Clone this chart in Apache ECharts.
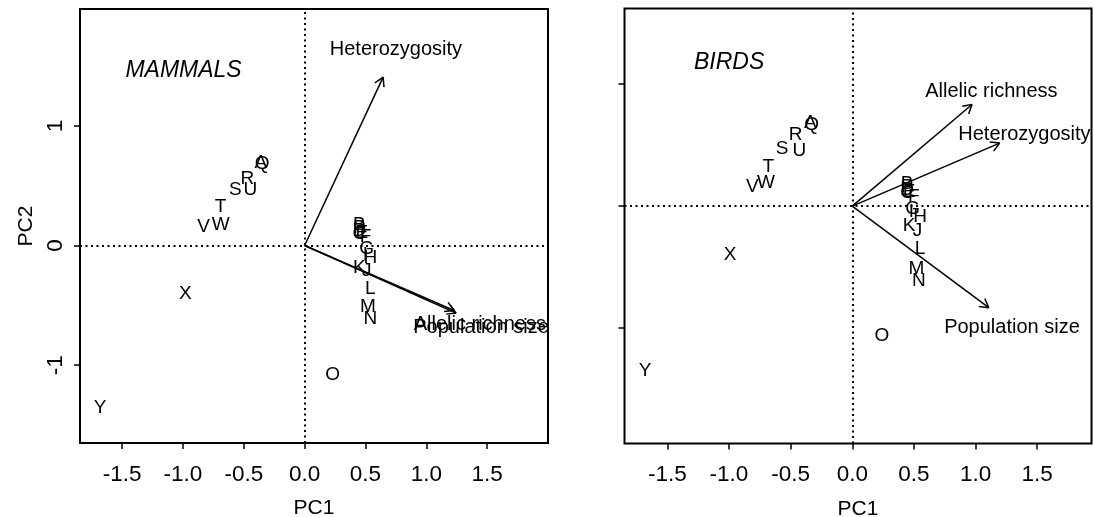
<!DOCTYPE html>
<html>
<head>
<meta charset="utf-8">
<script src="https://cdn.jsdelivr.net/npm/echarts@6/dist/echarts.min.js"></script>
<style>
    html, body { margin: 0; padding: 0; background: #fff; }
    #chart { width: 1094px; height: 517px; }
</style>
</head>
<body>
<div id="chart"></div>
<script>
// population labels
var letters = ['A', 'B', 'C', 'D', 'E', 'F', 'G', 'H', 'I', 'J', 'K', 'L', 'M',
    'N', 'O', 'P', 'Q', 'R', 'S', 'T', 'U', 'V', 'W', 'X', 'Y'];

// mammals scores
var mammalsPC1 = [-0.36, 0.45, 0.45, 0.45, 0.47, 0.50, 0.51, 0.54, 0.50, 0.51, 0.45, 0.54, 0.52,
    0.54, 0.23, 0.45, -0.35, -0.47, -0.57, -0.69, -0.445, -0.83, -0.69, -0.98, -1.68];
var mammalsPC2 = [0.69, 0.17, 0.10, 0.12, 0.11, 0.07, -0.03, -0.10, -0.08, -0.21, -0.19, -0.36, -0.51,
    -0.61, -1.08, 0.15, 0.68, 0.56, 0.465, 0.32, 0.465, 0.16, 0.173, -0.40, -1.36];

// birds scores
var birdsPC1 = [-0.34, 0.445, 0.445, 0.445, 0.46, 0.50, 0.49, 0.55, 0.48, 0.53, 0.46, 0.55, 0.52,
    0.54, 0.24, 0.445, -0.33, -0.46, -0.57, -0.68, -0.43, -0.81, -0.70, -0.99, -1.68];
var birdsPC2 = [0.68, 0.18, 0.11, 0.13, 0.12, 0.08, -0.02, -0.09, -0.05, -0.20, -0.16, -0.35, -0.51,
    -0.61, -1.06, 0.16, 0.67, 0.58, 0.47, 0.32, 0.45, 0.16, 0.19, -0.40, -1.345];

// loadings (arrow tips) and where their names sit
var mammalsVars = ['Heterozygosity', 'Allelic richness', 'Population size'];
var mammalsTips = [[0.645, 1.407], [1.228, -0.543], [1.245, -0.565]];
var mammalsVarLabels = [[0.75, 1.635], [1.44, -0.66], [1.45, -0.685]];

var birdsVars = ['Allelic richness', 'Heterozygosity', 'Population size'];
var birdsTips = [[0.971, 0.832], [1.195, 0.516], [1.107, -0.832]];
var birdsVarLabels = [[1.128, 0.941], [1.396, 0.585], [1.295, -0.99]];

// ticks
var xTicks = [-1.5, -1.0, -0.5, 0.0, 0.5, 1.0, 1.5];
var yTicks = [-1, 0, 1];

var FONT = 'Liberation Sans, Arial, Helvetica, sans-serif';

function letterSeries(idx, pc1, pc2) {
    var data = [];
    for (var i = 0; i < letters.length; i++) {
        data.push([pc1[i], pc2[i]]);
    }
    return {
        type: 'custom',
        xAxisIndex: idx,
        yAxisIndex: idx,
        silent: true,
        clip: false,
        data: data,
        renderItem: function (params, api) {
            var p = api.coord([api.value(0), api.value(1)]);
            return {
                type: 'text',
                style: {
                    text: letters[params.dataIndex],
                    x: p[0],
                    y: p[1],
                    font: '19px ' + FONT,
                    fill: '#000',
                    align: 'center',
                    verticalAlign: 'middle',
                    textAlign: 'center',
                    textVerticalAlign: 'middle'
                }
            };
        }
    };
}

function arrowSeries(idx, names, tips, labels) {
    return {
        type: 'custom',
        xAxisIndex: idx,
        yAxisIndex: idx,
        silent: true,
        clip: false,
        data: tips,
        renderItem: function (params, api) {
            var o = api.coord([0, 0]);
            var t = api.coord([api.value(0), api.value(1)]);
            var lp = api.coord(labels[params.dataIndex]);
            var ang = Math.atan2(t[1] - o[1], t[0] - o[0]);
            var len = 10, spread = Math.PI / 6;
            var h1 = [t[0] - len * Math.cos(ang - spread), t[1] - len * Math.sin(ang - spread)];
            var h2 = [t[0] - len * Math.cos(ang + spread), t[1] - len * Math.sin(ang + spread)];
            var ls = {stroke: '#000', lineWidth: 1.5};
            return {
                type: 'group',
                children: [
                    {type: 'line', shape: {x1: o[0], y1: o[1], x2: t[0], y2: t[1]}, style: ls},
                    {type: 'line', shape: {x1: t[0], y1: t[1], x2: h1[0], y2: h1[1]}, style: ls},
                    {type: 'line', shape: {x1: t[0], y1: t[1], x2: h2[0], y2: h2[1]}, style: ls},
                    {
                        type: 'text',
                        style: {
                            text: names[params.dataIndex],
                            x: lp[0],
                            y: lp[1],
                            font: '20px ' + FONT,
                            fill: '#000',
                            align: 'center',
                            verticalAlign: 'middle',
                            textAlign: 'center',
                            textVerticalAlign: 'middle'
                        }
                    }
                ]
            };
        }
    };
}

function titleSeries(idx, text, pos) {
    return {
        type: 'custom',
        xAxisIndex: idx,
        yAxisIndex: idx,
        silent: true,
        data: [pos],
        renderItem: function (params, api) {
            var p = api.coord([api.value(0), api.value(1)]);
            return {
                type: 'text',
                style: {
                    text: text,
                    x: p[0],
                    y: p[1],
                    font: 'italic 23px ' + FONT,
                    fill: '#000',
                    align: 'center',
                    verticalAlign: 'middle',
                    textAlign: 'center',
                    textVerticalAlign: 'middle'
                }
            };
        }
    };
}

function zeroLines(idx) {
    return {
        type: 'line',
        xAxisIndex: idx,
        yAxisIndex: idx,
        data: [],
        silent: true,
        markLine: {
            silent: true,
            symbol: 'none',
            animation: false,
            label: {show: false},
            lineStyle: {color: '#000', width: 2, type: [2, 3.5]},
            data: [{xAxis: 0}, {yAxis: 0}]
        }
    };
}

function xAxisFor(idx, min, max) {
    return {
        type: 'value',
        gridIndex: idx,
        min: min,
        max: max,
        name: 'PC1',
        nameLocation: 'middle',
        nameGap: 55,
        nameTextStyle: {fontSize: 21, color: '#000', fontFamily: FONT},
        axisLine: {show: false, onZero: false},
        splitLine: {show: false},
        axisTick: {show: true, length: 6, customValues: xTicks, lineStyle: {color: '#000', width: 1.5}},
        axisLabel: {
            customValues: xTicks,
            fontSize: 22.5,
            color: '#000',
            fontFamily: FONT,
            margin: 20,
            formatter: function (v) { return v.toFixed(1); }
        }
    };
}

function yAxisFor(idx, min, max, withLabels) {
    return {
        type: 'value',
        gridIndex: idx,
        min: min,
        max: max,
        name: withLabels ? 'PC2' : '',
        nameLocation: 'middle',
        nameGap: 43,
        nameTextStyle: {fontSize: 21, color: '#000', fontFamily: FONT},
        axisLine: {show: false, onZero: false},
        splitLine: {show: false},
        axisTick: {show: true, length: 6, customValues: yTicks, lineStyle: {color: '#000', width: 1.5}},
        axisLabel: {
            show: withLabels,
            customValues: yTicks,
            rotate: 90,
            fontSize: 22.5,
            color: '#000',
            fontFamily: FONT,
            margin: 13
        }
    };
}

var chart = echarts.init(document.getElementById('chart'));
var option = {
    backgroundColor: '#fff',
    animation: false,
    grid: [
        {left: 80, top: 9, width: 468, height: 434, show: true, borderColor: '#000', borderWidth: 2,
            containLabel: false, outerBoundsMode: 'none'},
        {left: 624.5, top: 8.5, width: 467, height: 435, show: true, borderColor: '#000', borderWidth: 2,
            containLabel: false, outerBoundsMode: 'none'}
    ],
    xAxis: [xAxisFor(0, -1.846, 2.0), xAxisFor(1, -1.847, 1.94)],
    yAxis: [yAxisFor(0, -1.651, 1.977, true), yAxisFor(1, -1.944, 1.618, false)],
    series: [
        zeroLines(0),
        zeroLines(1),
        letterSeries(0, mammalsPC1, mammalsPC2),
        letterSeries(1, birdsPC1, birdsPC2),
        arrowSeries(0, mammalsVars, mammalsTips, mammalsVarLabels),
        arrowSeries(1, birdsVars, birdsTips, birdsVarLabels),
        titleSeries(0, 'MAMMALS', [-0.995, 1.462]),
        titleSeries(1, 'BIRDS', [-0.999, 1.179])
    ]
};
chart.setOption(option);
</script>
</body>
</html>
